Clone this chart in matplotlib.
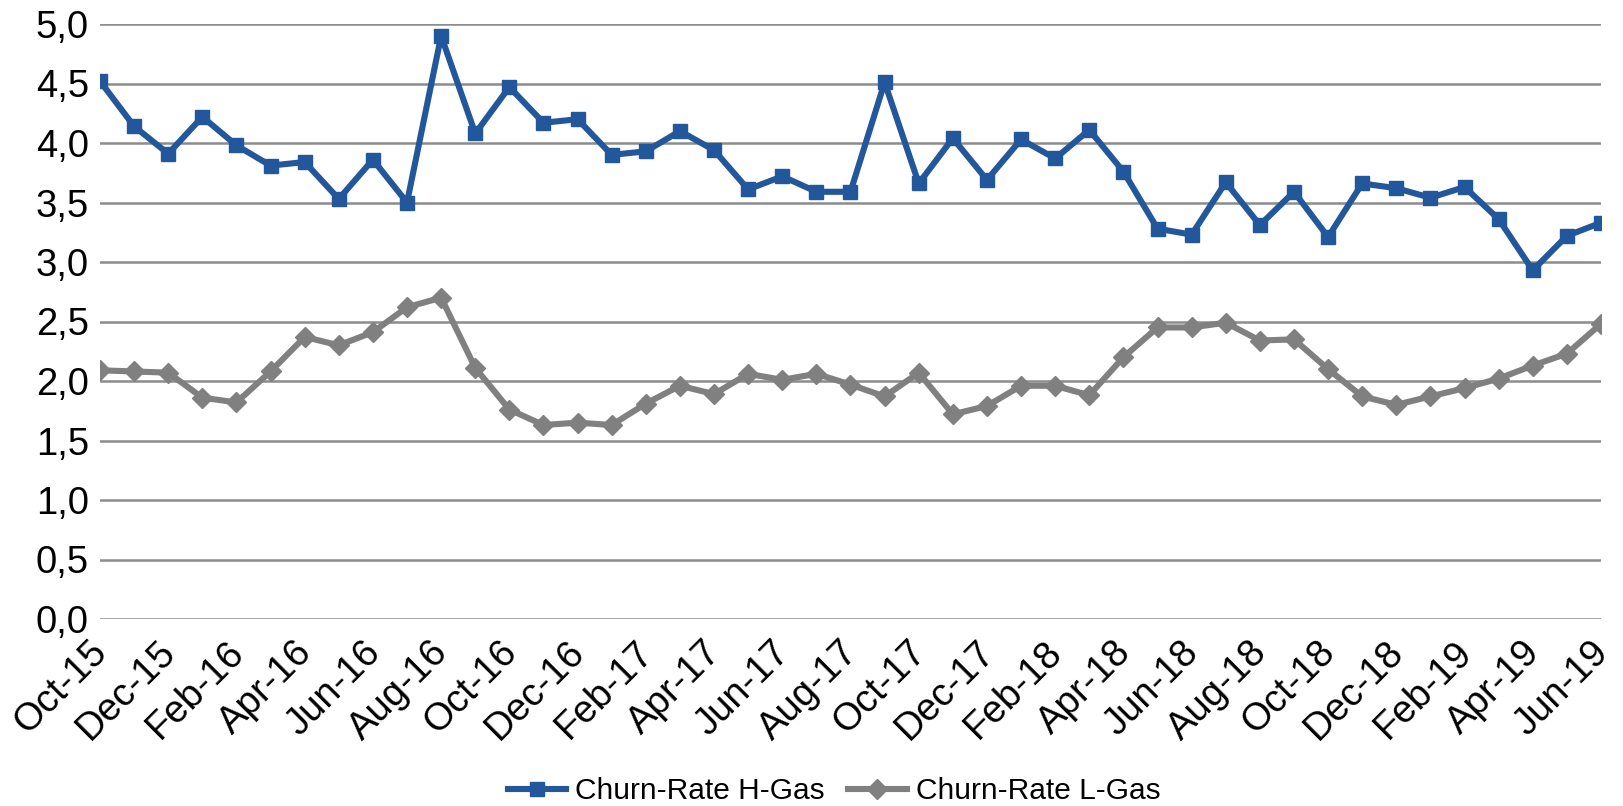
import matplotlib
matplotlib.use("Agg")
import matplotlib.pyplot as plt
from matplotlib.ticker import FuncFormatter, FixedLocator
from matplotlib.transforms import ScaledTranslation

months = ["Oct-15", "Nov-15", "Dec-15", "Jan-16", "Feb-16", "Mar-16", "Apr-16", "May-16",
          "Jun-16", "Jul-16", "Aug-16", "Sep-16", "Oct-16", "Nov-16", "Dec-16", "Jan-17",
          "Feb-17", "Mar-17", "Apr-17", "May-17", "Jun-17", "Jul-17", "Aug-17", "Sep-17",
          "Oct-17", "Nov-17", "Dec-17", "Jan-18", "Feb-18", "Mar-18", "Apr-18", "May-18",
          "Jun-18", "Jul-18", "Aug-18", "Sep-18", "Oct-18", "Nov-18", "Dec-18", "Jan-19",
          "Feb-19", "Mar-19", "Apr-19", "May-19", "Jun-19"]

h_gas = [4.52, 4.14, 3.91, 4.22, 3.98, 3.81, 3.84, 3.53, 3.86, 3.50,
         4.90, 4.08, 4.47, 4.17, 4.20, 3.90, 3.93, 4.10, 3.94, 3.61,
         3.72, 3.59, 3.59, 4.51, 3.66, 4.04, 3.69, 4.03, 3.87, 4.11,
         3.76, 3.28, 3.23, 3.67, 3.31, 3.59, 3.21, 3.66, 3.62, 3.54,
         3.63, 3.36, 2.93, 3.22, 3.33]

l_gas = [2.09, 2.08, 2.07, 1.86, 1.82, 2.08, 2.37, 2.30, 2.41, 2.62,
         2.70, 2.11, 1.76, 1.63, 1.65, 1.63, 1.81, 1.96, 1.89, 2.06,
         2.01, 2.06, 1.97, 1.87, 2.07, 1.72, 1.79, 1.96, 1.96, 1.88,
         2.20, 2.45, 2.45, 2.49, 2.34, 2.35, 2.10, 1.87, 1.80, 1.87,
         1.94, 2.02, 2.13, 2.23, 2.48]

series_names = ["Churn-Rate H-Gas", "Churn-Rate L-Gas"]
y_ticks = [0.0, 0.5, 1.0, 1.5, 2.0, 2.5, 3.0, 3.5, 4.0, 4.5, 5.0]

plt.rcParams['font.family'] = ['Liberation Sans', 'DejaVu Sans']

fig = plt.figure(figsize=(16.24, 8.06), dpi=100)
ax = fig.add_axes([100 / 1624, 1 - 619 / 806, 1501 / 1624, 595 / 806])

x = list(range(len(months)))
ax.plot(x, h_gas, color="#23579b", lw=4.4, marker="s", markersize=10.4,
        label=series_names[0], zorder=4)
ax.plot(x, l_gas, color="#808080", lw=4.4, marker="D", markersize=10,
        label=series_names[1], zorder=3)

ax.set_xlim(0, len(months) - 1)
ax.set_ylim(0, 5)
ax.yaxis.set_major_locator(FixedLocator(y_ticks))
ax.yaxis.set_major_formatter(FuncFormatter(lambda v, p: f"{v:.1f}".replace(".", ",")))
ax.grid(axis="y", color="#8c8c8c", lw=1.8, zorder=0)
ax.set_axisbelow(True)
for s in ax.spines.values():
    s.set_visible(False)

ax.tick_params(axis="x", length=0, pad=8)
ax.tick_params(axis="y", length=0, pad=8, labelsize=27.5)

tick_pos = x[::2]
ax.set_xticks(tick_pos)
ax.set_xticklabels([months[i] for i in tick_pos], rotation=45, ha="right",
                   va="top", rotation_mode="anchor", fontsize=27.5)
offset = ScaledTranslation(-11 / 100, -4 / 100, fig.dpi_scale_trans)
for lbl in ax.get_xticklabels():
    lbl.set_transform(lbl.get_transform() + offset)

fig.legend(loc="center", bbox_to_anchor=(0.5135, 0.0185), ncol=2, frameon=False,
           fontsize=21.5, handlelength=1.97, handletextpad=0.3, columnspacing=0.77,
           borderaxespad=0, borderpad=0)

fig.savefig("out.png", dpi=100)
